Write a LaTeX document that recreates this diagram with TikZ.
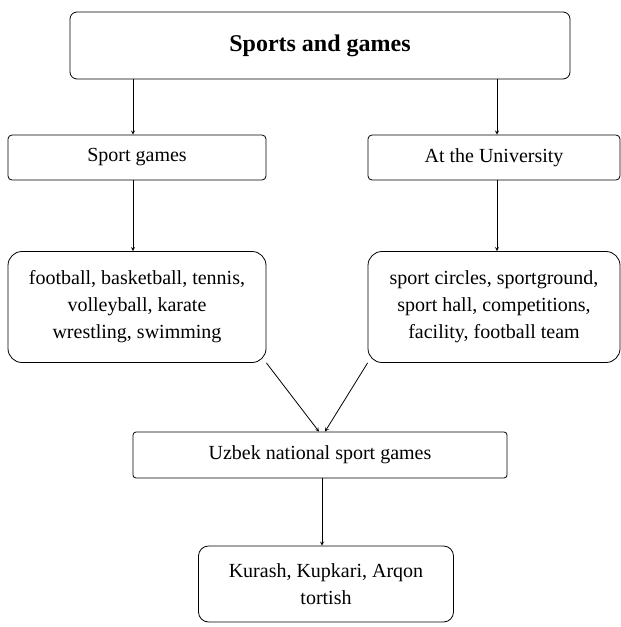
\documentclass[tikz,border=0pt]{standalone}
\usepackage{fontspec}
\setmainfont{Liberation Serif}
\usetikzlibrary{positioning}
\tikzset{%
  every box/.style={
    draw,
    thick,
    align=center,
    inner sep=2pt,
    font=\fontsize{20}{27}\selectfont
  },
  box title/.style={
    rounded corners=7pt,
    font=\fontsize{24}{28}\selectfont\bfseries
  },
  box small/.style={
    rounded corners=4pt
  },
  box list/.style={
    rounded corners=14pt
  }
 }

\begin{document}
\begin{tikzpicture}[x=1pt, y=-1pt, >=stealth]

\useasboundingbox (0,0) rectangle (621,627);

\node [every box, box title, minimum width=500pt, minimum height=67pt] (sports) at (320,45.5) {Sports and games};

\node [every box, box small, minimum width=258pt, minimum height=45pt] (sportgames) at (137,157.5) {Sport games};
\node [every box, box small, minimum width=252pt, minimum height=45pt] (university) at (494,157.5) {At the University};

\node [every box, box list, minimum width=258pt, minimum height=111pt] (kinds) at (137,307)
  {football, basketball, tennis,\\volleyball, karate\\wrestling, swimming};
\node [every box, box list, minimum width=252pt, minimum height=111pt] (places) at (494,307)
  {sport circles, sportground,\\sport hall, competitions,\\facility, football team};

\node [every box, box small, rounded corners=3pt, minimum width=374pt, minimum height=46pt] (uzbek) at (320,455) {Uzbek national sport games};

\node [every box, box list, rounded corners=10pt, minimum width=255pt, minimum height=76pt] (national) at (326,584)
  {Kurash, Kupkari, Arqon\\tortish};

% where the arrows meet the boxes
\coordinate (left-x) at (133,0);
\coordinate (right-x) at (497,0);
\coordinate (meet-l) at (319,0);
\coordinate (meet-r) at (325,0);
\coordinate (low-x) at (322,0);

\draw [->, thick] (sports.south -| left-x) -- (sportgames.north -| left-x);
\draw [->, thick] (sports.south -| right-x) -- (university.north -| right-x);

\draw [->, thick] (sportgames.south -| left-x) -- (kinds.north -| left-x);
\draw [->, thick] (university.south -| right-x) -- (places.north -| right-x);

\draw [->, thick] (kinds.south east) -- (uzbek.north -| meet-l);
\draw [->, thick] (places.south west) -- (uzbek.north -| meet-r);

\draw [->, thick] (uzbek.south -| low-x) -- (national.north -| low-x);

\end{tikzpicture}
\end{document}
